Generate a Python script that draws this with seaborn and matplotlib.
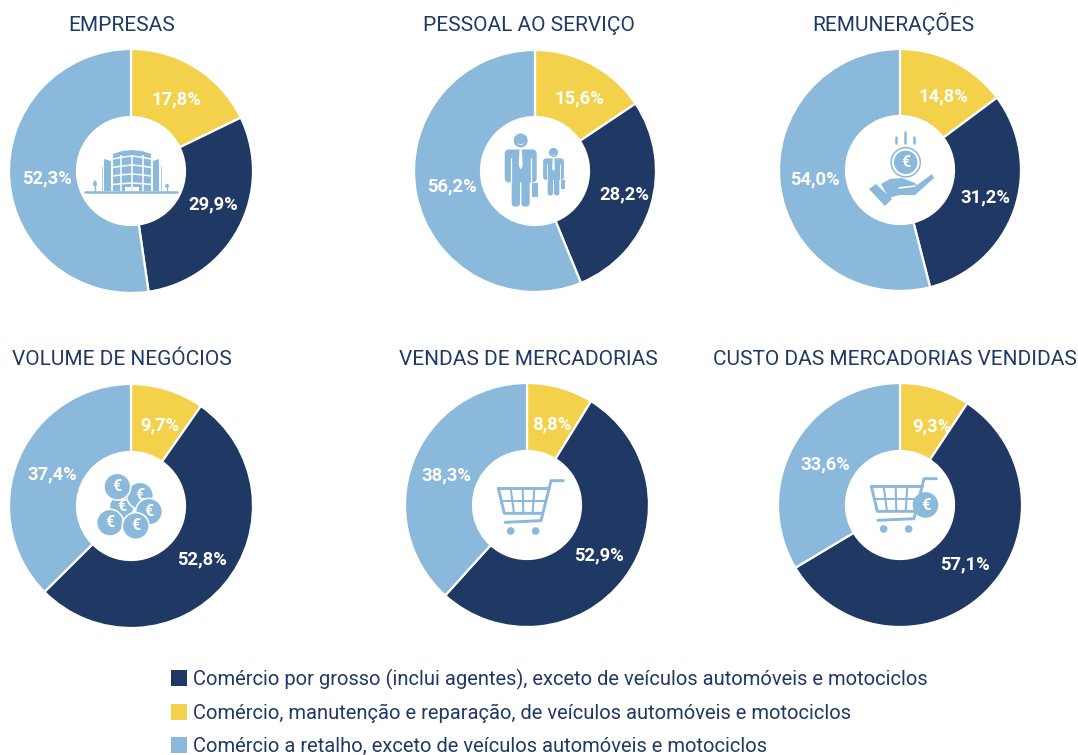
import matplotlib
matplotlib.use("Agg")
import matplotlib.pyplot as plt
import seaborn as sns
from matplotlib.patches import Circle, Polygon, Rectangle, FancyBboxPatch

# ---- data
titles = ["EMPRESAS", "PESSOAL AO SERVIÇO", "REMUNERAÇÕES",
          "VOLUME DE NEGÓCIOS", "VENDAS DE MERCADORIAS", "CUSTO DAS MERCADORIAS VENDIDAS"]
manutencao = [17.8, 15.6, 14.8, 9.7, 8.8, 9.3]
grosso = [29.9, 28.2, 31.2, 52.8, 52.9, 57.1]
retalho = [52.3, 56.2, 54.0, 37.4, 38.3, 33.6]
series_labels = ["Comércio por grosso (inclui agentes), exceto de veículos automóveis e motociclos",
                 "Comércio, manutenção e reparação, de veículos automóveis e motociclos",
                 "Comércio a retalho, exceto de veículos automóveis e motociclos"]

# ---- style and layout
W, H = 1078, 755
NAVY, YELLOW, BLUE = "#1F3864", "#F4D14A", "#8AB9DC"
TEXT = "#1F3A63"
sns.set_theme(style="white")
plt.rcParams["font.family"] = ["Roboto", "DejaVu Sans"]
palette = sns.color_palette([YELLOW, NAVY, BLUE])
centers = [(131, 171, 122), (535, 171, 121), (900, 170, 121),
           (131, 506, 122), (527, 505, 122), (900, 505, 122)]
title_pos = [(122, 31), (529, 31), (893, 31), (122, 365), (528, 365), (895, 365)]
label_px = [[(176, 97.5), (213, 202.5), (47, 176.5)],
            [(579, 96.5), (624, 192.5), (452, 184.5)],
            [(943, 94.5), (985, 195.5), (815, 177.5)],
            [(160, 423.5), (202, 557.5), (52, 472.5)],
            [(552, 422.5), (599, 553.5), (446, 473.5)],
            [(932, 424.5), (965, 562.5), (825, 462.5)]]
HOLE = 54

fig = plt.figure(figsize=(W / 100, H / 100), dpi=100, facecolor="white")
for i, (cx, cy, r) in enumerate(centers):
    ax = fig.add_axes([(cx - r) / W, 1 - (cy + r) / H, 2 * r / W, 2 * r / H])
    vals = [manutencao[i], grosso[i], retalho[i]]
    wedges, _ = ax.pie(vals, colors=palette, startangle=90, counterclock=False, radius=1,
                       wedgeprops=dict(width=1 - HOLE / r, edgecolor="white", linewidth=1.6))
    for v, (px, py) in zip(vals, label_px[i]):
        ax.text((px - cx) / r, (cy - py) / r, f"{v:.1f}%".replace(".", ","),
                ha="center", va="center_baseline", color="white", fontweight="bold", fontsize=13.2)
    ax.set_xlim(-1, 1)
    ax.set_ylim(-1, 1)

# overlay in pixel coordinates for titles and central pictograms
ov = fig.add_axes([0, 0, 1, 1], zorder=5)
ov.set_xlim(0, W)
ov.set_ylim(H, 0)
ov.axis("off")
ov.patch.set_alpha(0)

for t, (x, y) in zip(titles, title_pos):
    ov.text(x, y, t, ha="center", va="baseline", color=TEXT, fontsize=15)


def add(p):
    ov.add_patch(p)
    return p


def circ(x, y, r, c=BLUE, **k):
    return add(Circle((x, y), r, fc=c, ec=k.pop("ec", "none"), lw=k.pop("lw", 0), **k))


def rect(x0, y0, x1, y1, c=BLUE):
    return add(Rectangle((x0, y0), x1 - x0, y1 - y0, fc=c, ec="none"))


def rrect(x0, y0, x1, y1, rad, c=BLUE):
    return add(FancyBboxPatch((x0 + rad, y0 + rad), x1 - x0 - 2 * rad, y1 - y0 - 2 * rad,
                              boxstyle=f"round,pad={rad},rounding_size={rad}", fc=c, ec="none"))


def poly(pts, c=BLUE):
    return add(Polygon(pts, closed=True, fc=c, ec="none"))


def line(xs, ys, lw=2.0, c=BLUE, cap="round"):
    ov.plot(xs, ys, color=c, lw=lw, solid_capstyle=cap, solid_joinstyle="round")


def euro(x, y, size):
    ov.text(x, y, "€", color="white", ha="center", va="center", fontsize=size, fontweight="bold")


def building():
    line([85, 177], [192, 192], lw=1.8)
    # wings
    poly([(104, 159), (111, 161), (111, 191), (104, 191)])
    poly([(159, 159), (153, 161), (153, 191), (159, 191)])
    line([102, 102], [166, 190], lw=0.5)
    line([161, 161], [166, 190], lw=0.5)
    # drum
    poly([(113, 154), (122, 151), (132, 150), (142, 151), (151, 154), (151, 191), (113, 191)])
    # mullions
    for y, bow in [(156, 3), (165, 2.5), (174, 2), (183, 1.5)]:
        line([113, 122, 132, 142, 151], [y + bow, y + 0.4 * bow, y, y + 0.4 * bow, y + bow],
             lw=1.1, c="white", cap="butt")
    for a in (120.5, 131.5, 142.5):
        line([a, a], [155, 191], lw=1.1, c="white", cap="butt")
    rect(125, 186.5, 130.5, 192, "white")
    rect(133, 186.5, 139, 192, "white")
    # trees
    add(Polygon([(95, 178), (98, 184), (96.5, 187), (93.5, 187), (92, 184)], fc=BLUE))
    line([95, 95], [186, 192], lw=1.0)
    circ(167, 186, 2)
    line([167, 167], [186, 192], lw=0.8)


def person(cx, top, s):
    """Person of scale s whose head top sits at y=top."""
    circ(cx, top + 7 * s, 7 * s)
    circ(cx, top + 8.2 * s, 3.4 * s, "white")
    circ(cx, top + 6.8 * s, 4 * s, BLUE)
    rrect(cx - 16 * s, top + 16 * s, cx + 16 * s, top + 49 * s, 4.5 * s)
    rrect(cx - 9.5 * s, top + 20 * s, cx + 9.5 * s, top + 44 * s, 1.5 * s)
    rrect(cx - 9 * s, top + 38 * s, cx - 0.7 * s, top + 73 * s, 3.5 * s)
    rrect(cx + 0.7 * s, top + 38 * s, cx + 9 * s, top + 73 * s, 3.5 * s)
    line([cx - 10.2 * s, cx - 10.2 * s], [top + 24 * s, top + 49 * s], lw=0.9 * s, c="white", cap="butt")
    line([cx + 10.2 * s, cx + 10.2 * s], [top + 24 * s, top + 49 * s], lw=0.9 * s, c="white", cap="butt")
    poly([(cx - 1.2 * s, top + 16 * s), (cx + 1.2 * s, top + 16 * s), (cx + 2 * s, top + 32 * s),
          (cx, top + 36 * s), (cx - 2 * s, top + 32 * s)], "white")
    rect(cx + 11.5 * s, top + 49 * s, cx + 17 * s, top + 63 * s)


def hand():
    for x, y0 in [(895.7, 137), (905, 132), (914, 137)]:
        line([x, x], [y0, 143], lw=1.8)
    circ(905.7, 162.3, 14.6, "none", ec=BLUE, lw=1.1)
    circ(905.7, 162.3, 11.7)
    euro(905.7, 162.6, 11.5)
    poly([(869, 189), (876, 184), (892, 199), (885, 206)])
    poly([(881, 184), (890, 179), (902, 178), (915, 183), (917, 185), (932, 174), (934, 178),
          (915, 195), (899, 195), (889, 198)])
    line([899, 915], [188, 186], lw=1.1, c="white")


def coins():
    for x, y, r in [(121.7, 506.7, 11.5), (140, 495.7, 12.6), (117.3, 486.7, 12.6),
                    (149, 511.7, 12.6), (110, 522.7, 12.6), (135.7, 526, 12.6)]:
        circ(x, y, r + 1.6, "white")
        circ(x, y, r)
        euro(x, y, 11.5)


def cart(dx, dy):
    X = lambda z: 470 + dx + z / 3
    Y = lambda z: 455 + dy + z / 3
    line([X(280), X(243), X(213), X(105)], [Y(77), Y(77), Y(197), Y(202)], lw=2.1)
    line([X(85), X(103), X(215)], [Y(100), Y(175), Y(175)], lw=2.1)
    line([X(85), X(236)], [Y(100), Y(100)], lw=2.1)
    line([X(94), X(226)], [Y(138), Y(138)], lw=1.5)
    for a, b in [(122, 132), (158, 160), (193, 188)]:
        line([X(a), X(b)], [Y(100), Y(175)], lw=1.5)
    circ(X(122), Y(228), 3.8)
    circ(X(197), Y(228), 3.8)


building()
person(520.7, 133.5, 1.0)
person(553.5, 148, 0.65)
hand()
coins()
cart(0, 0)
cart(373, -2)
circ(925.5, 505, 14.6, "white")
circ(925.5, 505, 12.8)
euro(925.5, 505, 12)

# ---- legend
proxies = [Rectangle((0, 0), 1, 1, fc=c, ec="none") for c in (NAVY, YELLOW, BLUE)]
fig.legend(proxies, series_labels, loc="upper left",
           bbox_to_anchor=(171 / W, 1 - 668.5 / H), bbox_transform=fig.transFigure,
           frameon=False, fontsize=14.5, labelcolor=TEXT, handlelength=0.78, handleheight=0.8,
           handletextpad=0.33, labelspacing=0.7, borderpad=0, borderaxespad=0)

fig.savefig("out.png", dpi=100, facecolor="white")
